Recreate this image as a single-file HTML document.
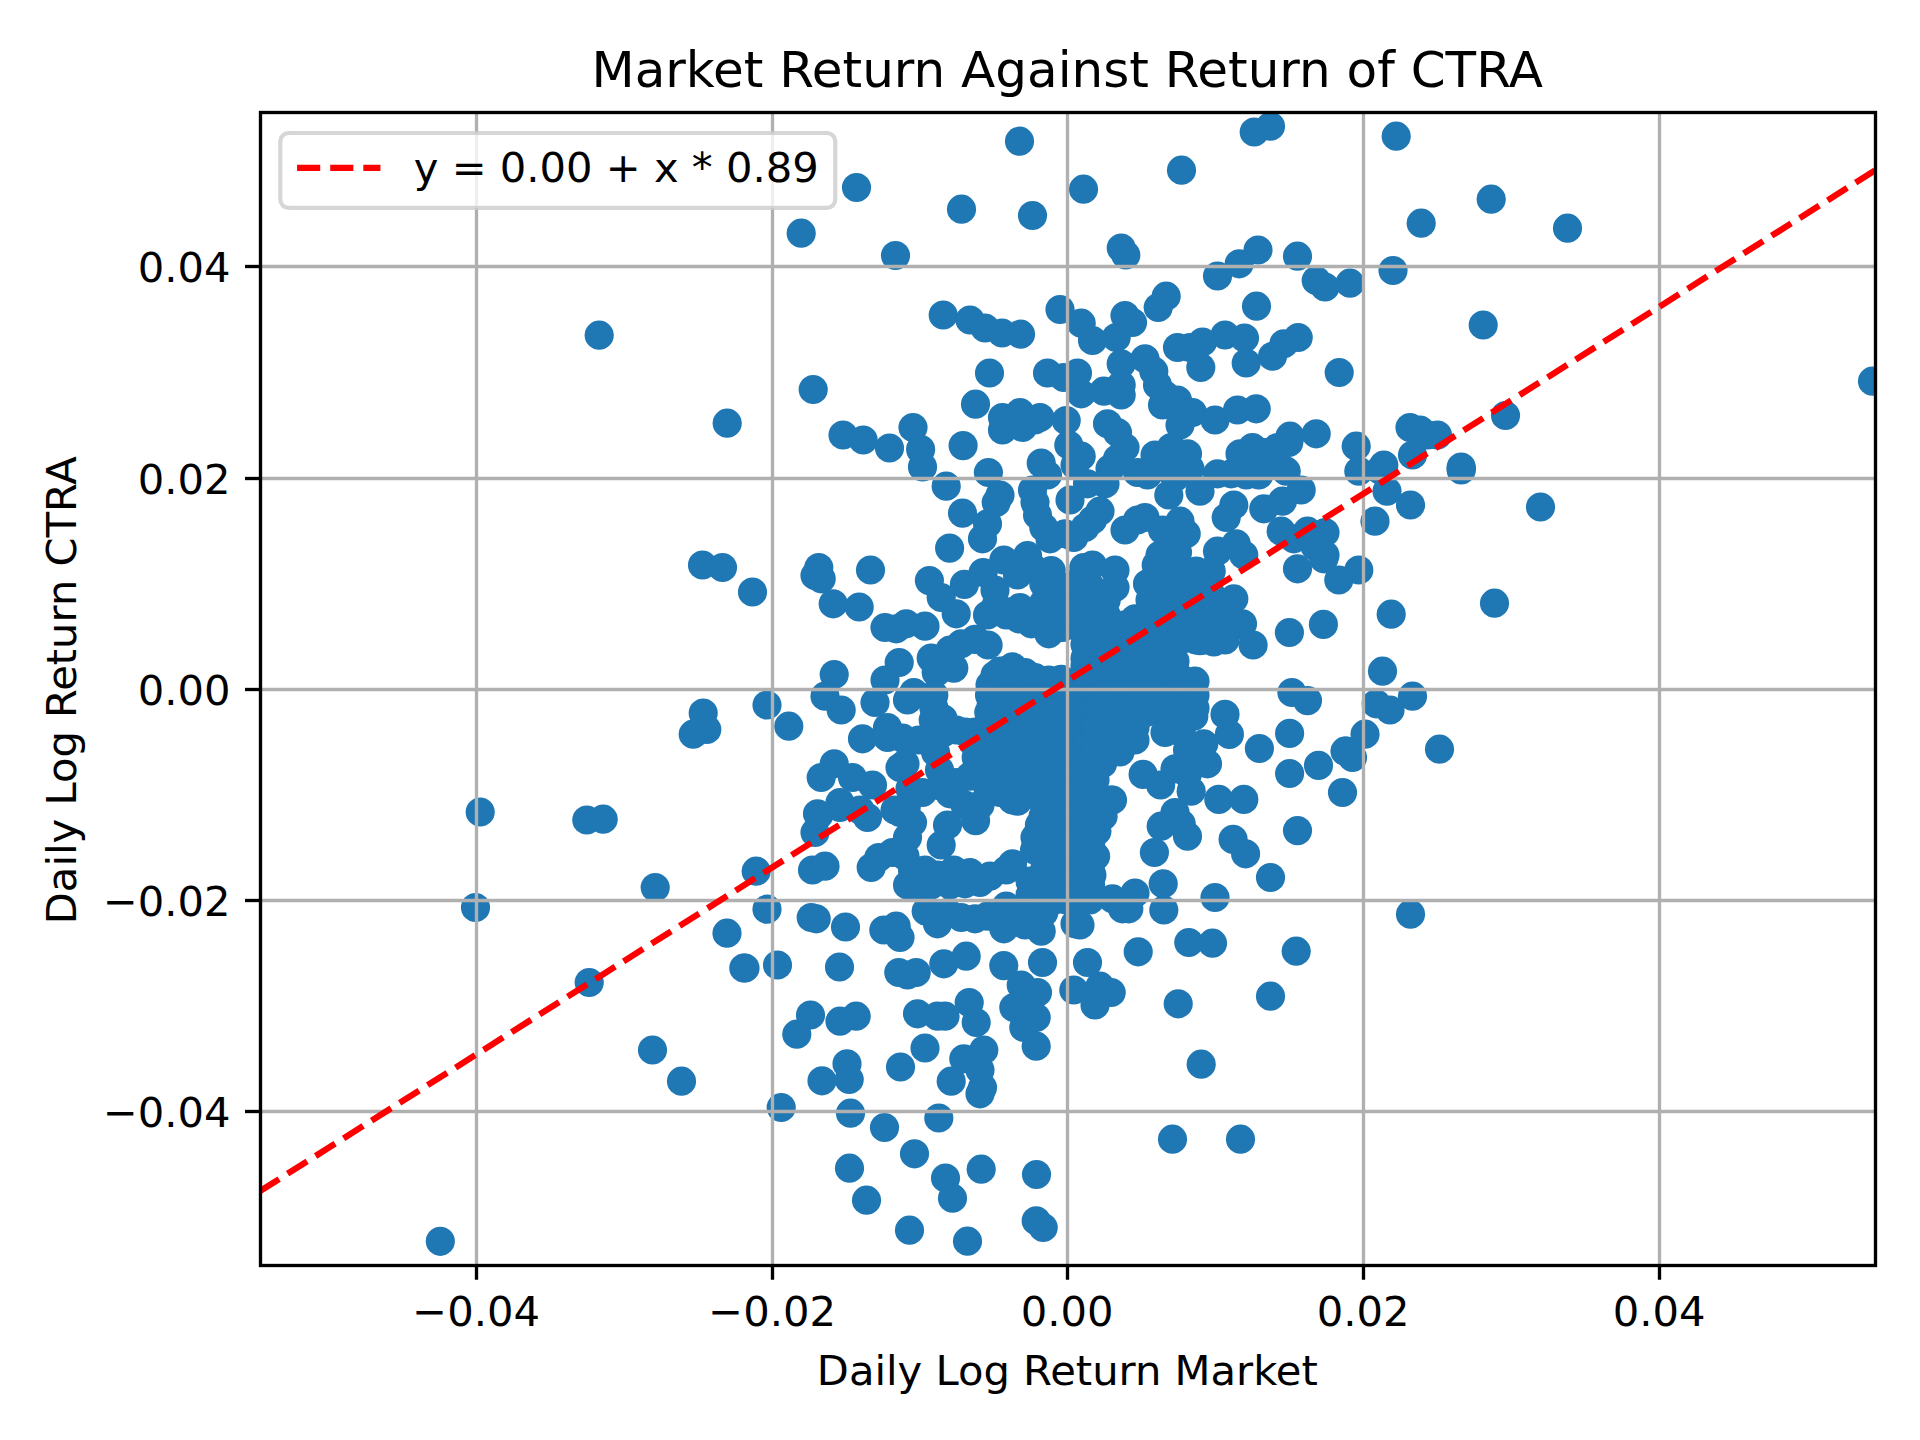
<!DOCTYPE html>
<html lang="en"><head><meta charset="utf-8"><title>Market Return Against Return of CTRA</title>
<style>html,body{margin:0;padding:0;background:#fff}body{width:1920px;height:1440px;overflow:hidden}svg{display:block}text{font-family:'DejaVu Sans','Liberation Sans',sans-serif;fill:#000}</style></head><body>
<svg width="1920" height="1440" viewBox="0 0 1920 1440">
<defs><clipPath id="ax"><rect x="259.583" y="112.000" width="1615.417" height="1153.167"/></clipPath></defs>
<rect width="1920" height="1440" fill="#fff"/>
<g clip-path="url(#ax)" fill="#1f77b4">
<circle cx="1019.5" cy="141.2" r="14.58"/>
<circle cx="856.5" cy="187.5" r="14.58"/>
<circle cx="961.5" cy="209.2" r="14.58"/>
<circle cx="1032.5" cy="215.5" r="14.58"/>
<circle cx="801.2" cy="233.2" r="14.58"/>
<circle cx="895.5" cy="255.5" r="14.58"/>
<circle cx="943.2" cy="315.0" r="14.58"/>
<circle cx="970.0" cy="320.0" r="14.58"/>
<circle cx="985.0" cy="328.0" r="14.58"/>
<circle cx="1002.0" cy="333.0" r="14.58"/>
<circle cx="1020.5" cy="334.2" r="14.58"/>
<circle cx="599.2" cy="335.2" r="14.58"/>
<circle cx="989.5" cy="373.0" r="14.58"/>
<circle cx="813.2" cy="389.5" r="14.58"/>
<circle cx="975.5" cy="404.2" r="14.58"/>
<circle cx="727.2" cy="423.2" r="14.58"/>
<circle cx="913.0" cy="427.5" r="14.58"/>
<circle cx="843.0" cy="435.0" r="14.58"/>
<circle cx="863.2" cy="440.0" r="14.58"/>
<circle cx="889.5" cy="448.0" r="14.58"/>
<circle cx="1002.5" cy="417.5" r="14.58"/>
<circle cx="1020.0" cy="412.5" r="14.58"/>
<circle cx="1002.5" cy="430.0" r="14.58"/>
<circle cx="1022.5" cy="427.5" r="14.58"/>
<circle cx="1035.0" cy="420.0" r="14.58"/>
<circle cx="1254.2" cy="132.0" r="14.58"/>
<circle cx="1270.5" cy="126.2" r="14.58"/>
<circle cx="1396.2" cy="136.2" r="14.58"/>
<circle cx="1181.5" cy="170.2" r="14.58"/>
<circle cx="1083.5" cy="189.2" r="14.58"/>
<circle cx="1491.2" cy="199.2" r="14.58"/>
<circle cx="1421.2" cy="223.2" r="14.58"/>
<circle cx="1121.2" cy="248.0" r="14.58"/>
<circle cx="1125.8" cy="255.0" r="14.58"/>
<circle cx="1258.0" cy="250.0" r="14.58"/>
<circle cx="1239.2" cy="263.8" r="14.58"/>
<circle cx="1297.5" cy="256.2" r="14.58"/>
<circle cx="1217.5" cy="276.0" r="14.58"/>
<circle cx="1393.0" cy="270.5" r="14.58"/>
<circle cx="1316.2" cy="280.5" r="14.58"/>
<circle cx="1325.0" cy="287.0" r="14.58"/>
<circle cx="1350.0" cy="283.2" r="14.58"/>
<circle cx="1166.2" cy="296.2" r="14.58"/>
<circle cx="1158.2" cy="307.5" r="14.58"/>
<circle cx="1256.5" cy="306.2" r="14.58"/>
<circle cx="1060.0" cy="309.5" r="14.58"/>
<circle cx="1125.0" cy="315.5" r="14.58"/>
<circle cx="1132.5" cy="322.5" r="14.58"/>
<circle cx="1081.2" cy="323.2" r="14.58"/>
<circle cx="1483.2" cy="325.0" r="14.58"/>
<circle cx="1092.5" cy="340.5" r="14.58"/>
<circle cx="1116.2" cy="337.5" r="14.58"/>
<circle cx="1225.0" cy="335.0" r="14.58"/>
<circle cx="1244.5" cy="338.0" r="14.58"/>
<circle cx="1202.5" cy="342.0" r="14.58"/>
<circle cx="1177.5" cy="347.5" r="14.58"/>
<circle cx="1190.0" cy="347.5" r="14.58"/>
<circle cx="1298.2" cy="337.5" r="14.58"/>
<circle cx="1283.8" cy="343.8" r="14.58"/>
<circle cx="1272.5" cy="356.2" r="14.58"/>
<circle cx="1246.2" cy="363.0" r="14.58"/>
<circle cx="1200.8" cy="367.5" r="14.58"/>
<circle cx="1145.0" cy="358.8" r="14.58"/>
<circle cx="1121.2" cy="363.8" r="14.58"/>
<circle cx="1153.8" cy="371.2" r="14.58"/>
<circle cx="1339.2" cy="372.5" r="14.58"/>
<circle cx="1047.5" cy="373.0" r="14.58"/>
<circle cx="1077.5" cy="373.0" r="14.58"/>
<circle cx="1063.8" cy="377.5" r="14.58"/>
<circle cx="1121.2" cy="385.0" r="14.58"/>
<circle cx="1103.8" cy="391.2" r="14.58"/>
<circle cx="1081.2" cy="393.8" r="14.58"/>
<circle cx="1121.2" cy="395.0" r="14.58"/>
<circle cx="1157.5" cy="385.0" r="14.58"/>
<circle cx="1165.0" cy="395.0" r="14.58"/>
<circle cx="1177.5" cy="400.0" r="14.58"/>
<circle cx="1162.5" cy="405.0" r="14.58"/>
<circle cx="1180.0" cy="412.5" r="14.58"/>
<circle cx="1192.5" cy="412.5" r="14.58"/>
<circle cx="1180.0" cy="425.0" r="14.58"/>
<circle cx="1215.0" cy="420.0" r="14.58"/>
<circle cx="1237.5" cy="410.0" r="14.58"/>
<circle cx="1256.2" cy="408.8" r="14.58"/>
<circle cx="1040.0" cy="417.5" r="14.58"/>
<circle cx="1066.2" cy="420.5" r="14.58"/>
<circle cx="1107.5" cy="423.8" r="14.58"/>
<circle cx="1117.5" cy="432.5" r="14.58"/>
<circle cx="1290.0" cy="436.2" r="14.58"/>
<circle cx="1316.2" cy="433.8" r="14.58"/>
<circle cx="1410.0" cy="427.5" r="14.58"/>
<circle cx="1420.0" cy="430.0" r="14.58"/>
<circle cx="1427.5" cy="435.0" r="14.58"/>
<circle cx="1505.5" cy="415.5" r="14.58"/>
<circle cx="1412.5" cy="455.0" r="14.58"/>
<circle cx="1383.8" cy="465.0" r="14.58"/>
<circle cx="1461.2" cy="467.0" r="14.58"/>
<circle cx="1567.5" cy="228.2" r="14.58"/>
<circle cx="1872.5" cy="381.2" r="14.58"/>
<circle cx="1461.2" cy="470.0" r="14.58"/>
<circle cx="1437.5" cy="435.0" r="14.58"/>
<circle cx="702.5" cy="565.0" r="14.58"/>
<circle cx="722.5" cy="567.5" r="14.58"/>
<circle cx="703.2" cy="713.0" r="14.58"/>
<circle cx="706.8" cy="729.5" r="14.58"/>
<circle cx="693.2" cy="734.2" r="14.58"/>
<circle cx="480.2" cy="812.0" r="14.58"/>
<circle cx="586.8" cy="820.0" r="14.58"/>
<circle cx="603.2" cy="819.2" r="14.58"/>
<circle cx="655.2" cy="887.5" r="14.58"/>
<circle cx="475.5" cy="907.5" r="14.58"/>
<circle cx="727.0" cy="933.2" r="14.58"/>
<circle cx="743.8" cy="968.0" r="14.58"/>
<circle cx="589.2" cy="982.5" r="14.58"/>
<circle cx="652.5" cy="1050.0" r="14.58"/>
<circle cx="681.5" cy="1081.2" r="14.58"/>
<circle cx="440.3" cy="1241.3" r="14.58"/>
<circle cx="1540.5" cy="507.0" r="14.58"/>
<circle cx="1494.5" cy="603.2" r="14.58"/>
<circle cx="1461.2" cy="468.8" r="14.58"/>
<circle cx="1380.0" cy="470.0" r="14.58"/>
<circle cx="1387.0" cy="491.2" r="14.58"/>
<circle cx="1410.5" cy="505.0" r="14.58"/>
<circle cx="1391.2" cy="614.2" r="14.58"/>
<circle cx="1382.5" cy="671.2" r="14.58"/>
<circle cx="1412.5" cy="696.2" r="14.58"/>
<circle cx="1390.0" cy="710.0" r="14.58"/>
<circle cx="1365.0" cy="734.2" r="14.58"/>
<circle cx="1439.5" cy="749.2" r="14.58"/>
<circle cx="1346.2" cy="751.2" r="14.58"/>
<circle cx="1352.5" cy="757.5" r="14.58"/>
<circle cx="1270.5" cy="877.5" r="14.58"/>
<circle cx="1410.5" cy="914.2" r="14.58"/>
<circle cx="1296.2" cy="951.2" r="14.58"/>
<circle cx="1270.5" cy="996.2" r="14.58"/>
<circle cx="1240.5" cy="1139.2" r="14.58"/>
<circle cx="914.5" cy="1153.8" r="14.58"/>
<circle cx="849.5" cy="1168.2" r="14.58"/>
<circle cx="981.2" cy="1169.2" r="14.58"/>
<circle cx="945.5" cy="1178.0" r="14.58"/>
<circle cx="952.5" cy="1198.2" r="14.58"/>
<circle cx="866.5" cy="1200.2" r="14.58"/>
<circle cx="1036.5" cy="1174.5" r="14.58"/>
<circle cx="1036.2" cy="1220.8" r="14.58"/>
<circle cx="1043.2" cy="1227.5" r="14.58"/>
<circle cx="909.5" cy="1230.2" r="14.58"/>
<circle cx="967.5" cy="1241.2" r="14.58"/>
<circle cx="756.2" cy="871.2" r="14.58"/>
<circle cx="818.8" cy="815.0" r="14.58"/>
<circle cx="815.0" cy="832.5" r="14.58"/>
<circle cx="840.0" cy="807.5" r="14.58"/>
<circle cx="867.5" cy="817.5" r="14.58"/>
<circle cx="812.5" cy="870.0" r="14.58"/>
<circle cx="825.0" cy="866.2" r="14.58"/>
<circle cx="871.2" cy="867.5" r="14.58"/>
<circle cx="878.8" cy="857.5" r="14.58"/>
<circle cx="892.5" cy="852.5" r="14.58"/>
<circle cx="900.0" cy="812.5" r="14.58"/>
<circle cx="1163.2" cy="883.8" r="14.58"/>
<circle cx="1163.8" cy="910.0" r="14.58"/>
<circle cx="1215.0" cy="897.5" r="14.58"/>
<circle cx="767.0" cy="909.2" r="14.58"/>
<circle cx="811.2" cy="917.5" r="14.58"/>
<circle cx="816.2" cy="918.8" r="14.58"/>
<circle cx="845.5" cy="927.0" r="14.58"/>
<circle cx="883.8" cy="930.0" r="14.58"/>
<circle cx="896.2" cy="926.2" r="14.58"/>
<circle cx="900.0" cy="937.5" r="14.58"/>
<circle cx="898.8" cy="972.5" r="14.58"/>
<circle cx="839.5" cy="967.0" r="14.58"/>
<circle cx="777.5" cy="965.0" r="14.58"/>
<circle cx="745.0" cy="968.0" r="14.58"/>
<circle cx="1138.2" cy="951.8" r="14.58"/>
<circle cx="1188.8" cy="942.5" r="14.58"/>
<circle cx="1212.5" cy="943.2" r="14.58"/>
<circle cx="1021.2" cy="985.0" r="14.58"/>
<circle cx="1037.5" cy="992.5" r="14.58"/>
<circle cx="1013.8" cy="1007.5" r="14.58"/>
<circle cx="1027.5" cy="1010.0" r="14.58"/>
<circle cx="1036.2" cy="1017.5" r="14.58"/>
<circle cx="1023.8" cy="1027.5" r="14.58"/>
<circle cx="1036.2" cy="1046.2" r="14.58"/>
<circle cx="1073.8" cy="990.0" r="14.58"/>
<circle cx="1100.0" cy="986.2" r="14.58"/>
<circle cx="1111.2" cy="992.5" r="14.58"/>
<circle cx="1095.0" cy="1005.0" r="14.58"/>
<circle cx="1178.2" cy="1003.8" r="14.58"/>
<circle cx="969.2" cy="1002.5" r="14.58"/>
<circle cx="976.2" cy="1022.5" r="14.58"/>
<circle cx="917.5" cy="1013.8" r="14.58"/>
<circle cx="937.5" cy="1016.2" r="14.58"/>
<circle cx="945.0" cy="1016.2" r="14.58"/>
<circle cx="856.2" cy="1016.2" r="14.58"/>
<circle cx="840.0" cy="1021.2" r="14.58"/>
<circle cx="810.5" cy="1015.0" r="14.58"/>
<circle cx="796.8" cy="1034.2" r="14.58"/>
<circle cx="925.0" cy="1048.0" r="14.58"/>
<circle cx="983.8" cy="1050.0" r="14.58"/>
<circle cx="963.8" cy="1058.8" r="14.58"/>
<circle cx="980.0" cy="1070.0" r="14.58"/>
<circle cx="951.2" cy="1081.2" r="14.58"/>
<circle cx="982.5" cy="1087.5" r="14.58"/>
<circle cx="980.0" cy="1093.8" r="14.58"/>
<circle cx="900.5" cy="1067.0" r="14.58"/>
<circle cx="847.0" cy="1063.8" r="14.58"/>
<circle cx="849.2" cy="1079.5" r="14.58"/>
<circle cx="822.0" cy="1080.8" r="14.58"/>
<circle cx="781.2" cy="1107.5" r="14.58"/>
<circle cx="850.5" cy="1113.2" r="14.58"/>
<circle cx="884.5" cy="1127.5" r="14.58"/>
<circle cx="938.8" cy="1118.0" r="14.58"/>
<circle cx="1201.2" cy="1064.2" r="14.58"/>
<circle cx="1172.5" cy="1139.2" r="14.58"/>
<circle cx="818.8" cy="567.5" r="14.58"/>
<circle cx="815.0" cy="575.5" r="14.58"/>
<circle cx="821.2" cy="578.8" r="14.58"/>
<circle cx="870.5" cy="570.0" r="14.58"/>
<circle cx="752.5" cy="592.0" r="14.58"/>
<circle cx="833.2" cy="603.8" r="14.58"/>
<circle cx="859.2" cy="607.0" r="14.58"/>
<circle cx="885.0" cy="627.5" r="14.58"/>
<circle cx="896.2" cy="628.8" r="14.58"/>
<circle cx="899.2" cy="662.5" r="14.58"/>
<circle cx="885.0" cy="680.0" r="14.58"/>
<circle cx="834.2" cy="674.5" r="14.58"/>
<circle cx="767.0" cy="705.0" r="14.58"/>
<circle cx="788.8" cy="726.2" r="14.58"/>
<circle cx="825.0" cy="696.2" r="14.58"/>
<circle cx="841.2" cy="710.0" r="14.58"/>
<circle cx="875.0" cy="702.5" r="14.58"/>
<circle cx="887.5" cy="727.5" r="14.58"/>
<circle cx="862.5" cy="738.8" r="14.58"/>
<circle cx="887.5" cy="737.5" r="14.58"/>
<circle cx="834.2" cy="763.8" r="14.58"/>
<circle cx="821.2" cy="777.5" r="14.58"/>
<circle cx="852.5" cy="777.5" r="14.58"/>
<circle cx="872.5" cy="785.0" r="14.58"/>
<circle cx="900.0" cy="767.5" r="14.58"/>
<circle cx="840.0" cy="802.5" r="14.58"/>
<circle cx="817.5" cy="813.8" r="14.58"/>
<circle cx="860.0" cy="810.0" r="14.58"/>
<circle cx="895.0" cy="810.0" r="14.58"/>
<circle cx="1229.4" cy="734.4" r="14.58"/>
<circle cx="1259.4" cy="748.5" r="14.58"/>
<circle cx="1289.6" cy="733.4" r="14.58"/>
<circle cx="1289.6" cy="773.5" r="14.58"/>
<circle cx="1318.5" cy="765.4" r="14.58"/>
<circle cx="1345.0" cy="751.2" r="14.58"/>
<circle cx="1342.5" cy="792.5" r="14.58"/>
<circle cx="1297.5" cy="830.6" r="14.58"/>
<circle cx="1243.8" cy="799.4" r="14.58"/>
<circle cx="1218.8" cy="799.4" r="14.58"/>
<circle cx="1233.1" cy="839.4" r="14.58"/>
<circle cx="1245.6" cy="853.8" r="14.58"/>
<circle cx="1154.4" cy="852.5" r="14.58"/>
<circle cx="1161.2" cy="826.2" r="14.58"/>
<circle cx="1175.0" cy="812.5" r="14.58"/>
<circle cx="1181.2" cy="823.8" r="14.58"/>
<circle cx="1187.5" cy="836.2" r="14.58"/>
<circle cx="1143.1" cy="774.4" r="14.58"/>
<circle cx="1160.6" cy="785.0" r="14.58"/>
<circle cx="1175.0" cy="768.8" r="14.58"/>
<circle cx="1191.2" cy="791.2" r="14.58"/>
<circle cx="1187.5" cy="773.8" r="14.58"/>
<circle cx="1207.5" cy="763.8" r="14.58"/>
<circle cx="1203.8" cy="743.8" r="14.58"/>
<circle cx="1165.0" cy="732.5" r="14.58"/>
<circle cx="1181.2" cy="732.5" r="14.58"/>
<circle cx="1187.5" cy="750.0" r="14.58"/>
<circle cx="920.6" cy="449.4" r="14.58"/>
<circle cx="922.5" cy="466.9" r="14.58"/>
<circle cx="963.1" cy="445.6" r="14.58"/>
<circle cx="988.4" cy="472.5" r="14.58"/>
<circle cx="946.2" cy="486.2" r="14.58"/>
<circle cx="1041.2" cy="463.1" r="14.58"/>
<circle cx="1047.5" cy="475.0" r="14.58"/>
<circle cx="1068.8" cy="445.0" r="14.58"/>
<circle cx="1081.2" cy="456.2" r="14.58"/>
<circle cx="1075.0" cy="465.0" r="14.58"/>
<circle cx="1117.5" cy="458.8" r="14.58"/>
<circle cx="1110.0" cy="468.8" r="14.58"/>
<circle cx="1125.0" cy="447.5" r="14.58"/>
<circle cx="1105.0" cy="483.8" r="14.58"/>
<circle cx="1087.5" cy="483.8" r="14.58"/>
<circle cx="1070.0" cy="500.0" r="14.58"/>
<circle cx="1137.5" cy="472.5" r="14.58"/>
<circle cx="1000.0" cy="495.0" r="14.58"/>
<circle cx="996.2" cy="502.5" r="14.58"/>
<circle cx="1032.5" cy="490.0" r="14.58"/>
<circle cx="1035.0" cy="502.5" r="14.58"/>
<circle cx="1037.5" cy="515.0" r="14.58"/>
<circle cx="1043.8" cy="527.5" r="14.58"/>
<circle cx="1050.0" cy="538.8" r="14.58"/>
<circle cx="1065.0" cy="533.8" r="14.58"/>
<circle cx="1073.8" cy="537.5" r="14.58"/>
<circle cx="1085.0" cy="527.5" r="14.58"/>
<circle cx="1092.5" cy="520.0" r="14.58"/>
<circle cx="1100.0" cy="511.2" r="14.58"/>
<circle cx="962.5" cy="513.1" r="14.58"/>
<circle cx="987.5" cy="523.8" r="14.58"/>
<circle cx="982.5" cy="538.8" r="14.58"/>
<circle cx="949.6" cy="548.1" r="14.58"/>
<circle cx="1125.0" cy="530.0" r="14.58"/>
<circle cx="1137.5" cy="520.0" r="14.58"/>
<circle cx="929.4" cy="580.6" r="14.58"/>
<circle cx="941.2" cy="597.5" r="14.58"/>
<circle cx="956.2" cy="613.8" r="14.58"/>
<circle cx="964.4" cy="584.4" r="14.58"/>
<circle cx="983.1" cy="572.5" r="14.58"/>
<circle cx="1003.8" cy="560.0" r="14.58"/>
<circle cx="1027.5" cy="555.6" r="14.58"/>
<circle cx="1032.5" cy="567.5" r="14.58"/>
<circle cx="1051.2" cy="570.6" r="14.58"/>
<circle cx="1017.5" cy="575.0" r="14.58"/>
<circle cx="995.0" cy="590.0" r="14.58"/>
<circle cx="996.2" cy="605.0" r="14.58"/>
<circle cx="987.5" cy="615.0" r="14.58"/>
<circle cx="1020.0" cy="607.5" r="14.58"/>
<circle cx="1043.8" cy="583.8" r="14.58"/>
<circle cx="1043.8" cy="602.5" r="14.58"/>
<circle cx="1056.2" cy="590.0" r="14.58"/>
<circle cx="1037.5" cy="615.0" r="14.58"/>
<circle cx="1056.2" cy="608.8" r="14.58"/>
<circle cx="1006.2" cy="615.0" r="14.58"/>
<circle cx="1083.8" cy="567.5" r="14.58"/>
<circle cx="1092.5" cy="565.0" r="14.58"/>
<circle cx="1115.0" cy="570.0" r="14.58"/>
<circle cx="1115.0" cy="587.5" r="14.58"/>
<circle cx="1091.2" cy="587.5" r="14.58"/>
<circle cx="1081.2" cy="602.5" r="14.58"/>
<circle cx="1095.0" cy="606.2" r="14.58"/>
<circle cx="1075.0" cy="583.8" r="14.58"/>
<circle cx="1135.0" cy="618.8" r="14.58"/>
<circle cx="1106.2" cy="615.0" r="14.58"/>
<circle cx="1081.2" cy="615.0" r="14.58"/>
<circle cx="1106.2" cy="600.0" r="14.58"/>
<circle cx="1155.0" cy="455.0" r="14.58"/>
<circle cx="1171.2" cy="447.5" r="14.58"/>
<circle cx="1187.5" cy="453.8" r="14.58"/>
<circle cx="1175.0" cy="467.5" r="14.58"/>
<circle cx="1147.5" cy="475.0" r="14.58"/>
<circle cx="1175.0" cy="477.5" r="14.58"/>
<circle cx="1156.2" cy="465.0" r="14.58"/>
<circle cx="1190.0" cy="468.8" r="14.58"/>
<circle cx="1168.8" cy="495.0" r="14.58"/>
<circle cx="1200.0" cy="491.2" r="14.58"/>
<circle cx="1217.5" cy="473.8" r="14.58"/>
<circle cx="1231.2" cy="473.8" r="14.58"/>
<circle cx="1240.0" cy="453.8" r="14.58"/>
<circle cx="1246.2" cy="465.0" r="14.58"/>
<circle cx="1246.2" cy="475.0" r="14.58"/>
<circle cx="1258.8" cy="475.0" r="14.58"/>
<circle cx="1265.0" cy="452.5" r="14.58"/>
<circle cx="1271.2" cy="465.0" r="14.58"/>
<circle cx="1277.5" cy="447.5" r="14.58"/>
<circle cx="1286.2" cy="471.2" r="14.58"/>
<circle cx="1252.5" cy="447.5" r="14.58"/>
<circle cx="1288.8" cy="442.5" r="14.58"/>
<circle cx="1301.2" cy="490.0" r="14.58"/>
<circle cx="1282.5" cy="501.2" r="14.58"/>
<circle cx="1263.8" cy="508.8" r="14.58"/>
<circle cx="1233.8" cy="505.0" r="14.58"/>
<circle cx="1226.2" cy="517.5" r="14.58"/>
<circle cx="1356.2" cy="446.2" r="14.58"/>
<circle cx="1358.8" cy="471.2" r="14.58"/>
<circle cx="1375.0" cy="521.2" r="14.58"/>
<circle cx="1281.2" cy="531.2" r="14.58"/>
<circle cx="1293.8" cy="538.8" r="14.58"/>
<circle cx="1307.5" cy="531.2" r="14.58"/>
<circle cx="1325.0" cy="532.5" r="14.58"/>
<circle cx="1325.0" cy="555.0" r="14.58"/>
<circle cx="1315.0" cy="546.2" r="14.58"/>
<circle cx="1323.8" cy="558.8" r="14.58"/>
<circle cx="1297.5" cy="568.8" r="14.58"/>
<circle cx="1338.8" cy="580.0" r="14.58"/>
<circle cx="1358.8" cy="570.0" r="14.58"/>
<circle cx="1145.0" cy="517.5" r="14.58"/>
<circle cx="1180.0" cy="521.2" r="14.58"/>
<circle cx="1162.5" cy="530.0" r="14.58"/>
<circle cx="1186.2" cy="533.8" r="14.58"/>
<circle cx="1171.2" cy="540.0" r="14.58"/>
<circle cx="1217.5" cy="551.2" r="14.58"/>
<circle cx="1236.2" cy="543.8" r="14.58"/>
<circle cx="1243.8" cy="555.0" r="14.58"/>
<circle cx="1160.0" cy="555.0" r="14.58"/>
<circle cx="1177.5" cy="552.5" r="14.58"/>
<circle cx="1156.2" cy="565.0" r="14.58"/>
<circle cx="1196.2" cy="571.2" r="14.58"/>
<circle cx="1211.2" cy="571.2" r="14.58"/>
<circle cx="1177.5" cy="571.2" r="14.58"/>
<circle cx="1158.8" cy="577.5" r="14.58"/>
<circle cx="1147.5" cy="583.8" r="14.58"/>
<circle cx="1171.2" cy="587.5" r="14.58"/>
<circle cx="1196.2" cy="590.0" r="14.58"/>
<circle cx="1210.0" cy="592.5" r="14.58"/>
<circle cx="1152.5" cy="600.0" r="14.58"/>
<circle cx="1158.8" cy="615.0" r="14.58"/>
<circle cx="1177.5" cy="617.5" r="14.58"/>
<circle cx="1196.2" cy="608.8" r="14.58"/>
<circle cx="1215.0" cy="612.5" r="14.58"/>
<circle cx="1233.8" cy="598.8" r="14.58"/>
<circle cx="1227.5" cy="615.0" r="14.58"/>
<circle cx="925.0" cy="626.2" r="14.58"/>
<circle cx="906.2" cy="623.8" r="14.58"/>
<circle cx="975.0" cy="639.4" r="14.58"/>
<circle cx="988.1" cy="645.0" r="14.58"/>
<circle cx="961.2" cy="643.8" r="14.58"/>
<circle cx="950.0" cy="650.0" r="14.58"/>
<circle cx="931.2" cy="658.1" r="14.58"/>
<circle cx="937.5" cy="667.5" r="14.58"/>
<circle cx="953.8" cy="668.1" r="14.58"/>
<circle cx="936.2" cy="672.5" r="14.58"/>
<circle cx="913.8" cy="692.5" r="14.58"/>
<circle cx="907.5" cy="700.0" r="14.58"/>
<circle cx="933.8" cy="695.0" r="14.58"/>
<circle cx="933.8" cy="707.5" r="14.58"/>
<circle cx="933.2" cy="720.0" r="14.58"/>
<circle cx="943.1" cy="718.9" r="14.58"/>
<circle cx="902.5" cy="738.1" r="14.58"/>
<circle cx="918.8" cy="740.0" r="14.58"/>
<circle cx="1007.5" cy="670.0" r="14.58"/>
<circle cx="1012.5" cy="666.9" r="14.58"/>
<circle cx="1000.0" cy="671.2" r="14.58"/>
<circle cx="1025.0" cy="672.5" r="14.58"/>
<circle cx="1035.0" cy="677.5" r="14.58"/>
<circle cx="1048.8" cy="680.0" r="14.58"/>
<circle cx="1061.2" cy="679.4" r="14.58"/>
<circle cx="995.0" cy="675.0" r="14.58"/>
<circle cx="990.0" cy="685.0" r="14.58"/>
<circle cx="989.5" cy="695.0" r="14.58"/>
<circle cx="991.2" cy="705.0" r="14.58"/>
<circle cx="988.8" cy="712.5" r="14.58"/>
<circle cx="965.0" cy="732.0" r="14.58"/>
<circle cx="975.0" cy="732.0" r="14.58"/>
<circle cx="956.2" cy="730.0" r="14.58"/>
<circle cx="943.8" cy="732.5" r="14.58"/>
<circle cx="1018.8" cy="618.8" r="14.58"/>
<circle cx="1031.2" cy="623.8" r="14.58"/>
<circle cx="1048.8" cy="633.8" r="14.58"/>
<circle cx="1062.5" cy="627.5" r="14.58"/>
<circle cx="1008.8" cy="612.5" r="14.58"/>
<circle cx="935.6" cy="752.5" r="14.58"/>
<circle cx="939.5" cy="770.0" r="14.58"/>
<circle cx="976.2" cy="757.5" r="14.58"/>
<circle cx="956.2" cy="782.5" r="14.58"/>
<circle cx="905.0" cy="763.8" r="14.58"/>
<circle cx="910.0" cy="788.8" r="14.58"/>
<circle cx="941.2" cy="786.2" r="14.58"/>
<circle cx="975.0" cy="745.0" r="14.58"/>
<circle cx="970.0" cy="776.2" r="14.58"/>
<circle cx="922.5" cy="792.5" r="14.58"/>
<circle cx="950.0" cy="793.8" r="14.58"/>
<circle cx="1000.0" cy="776.2" r="14.58"/>
<circle cx="987.5" cy="786.2" r="14.58"/>
<circle cx="1000.0" cy="792.5" r="14.58"/>
<circle cx="1012.5" cy="800.0" r="14.58"/>
<circle cx="1025.0" cy="782.5" r="14.58"/>
<circle cx="1035.0" cy="795.0" r="14.58"/>
<circle cx="1037.5" cy="776.2" r="14.58"/>
<circle cx="1050.0" cy="792.5" r="14.58"/>
<circle cx="1118.8" cy="745.0" r="14.58"/>
<circle cx="1106.2" cy="751.2" r="14.58"/>
<circle cx="1102.5" cy="763.8" r="14.58"/>
<circle cx="1092.5" cy="776.2" r="14.58"/>
<circle cx="1093.1" cy="788.8" r="14.58"/>
<circle cx="1112.5" cy="800.0" r="14.58"/>
<circle cx="1100.0" cy="800.0" r="14.58"/>
<circle cx="1000.0" cy="740.0" r="14.58"/>
<circle cx="1012.5" cy="745.0" r="14.58"/>
<circle cx="987.5" cy="767.5" r="14.58"/>
<circle cx="1012.5" cy="763.8" r="14.58"/>
<circle cx="1025.0" cy="763.8" r="14.58"/>
<circle cx="906.2" cy="807.5" r="14.58"/>
<circle cx="912.5" cy="822.5" r="14.58"/>
<circle cx="907.5" cy="837.5" r="14.58"/>
<circle cx="905.0" cy="856.2" r="14.58"/>
<circle cx="912.5" cy="870.0" r="14.58"/>
<circle cx="907.5" cy="885.0" r="14.58"/>
<circle cx="921.2" cy="887.5" r="14.58"/>
<circle cx="947.5" cy="825.0" r="14.58"/>
<circle cx="941.2" cy="845.0" r="14.58"/>
<circle cx="975.6" cy="820.6" r="14.58"/>
<circle cx="965.0" cy="805.0" r="14.58"/>
<circle cx="980.0" cy="805.0" r="14.58"/>
<circle cx="1017.5" cy="801.2" r="14.58"/>
<circle cx="1043.1" cy="816.2" r="14.58"/>
<circle cx="1039.4" cy="825.0" r="14.58"/>
<circle cx="1035.0" cy="837.5" r="14.58"/>
<circle cx="1034.5" cy="850.0" r="14.58"/>
<circle cx="1110.6" cy="800.0" r="14.58"/>
<circle cx="1103.1" cy="816.2" r="14.58"/>
<circle cx="1096.9" cy="831.2" r="14.58"/>
<circle cx="1090.6" cy="843.8" r="14.58"/>
<circle cx="1095.6" cy="856.2" r="14.58"/>
<circle cx="1091.9" cy="875.0" r="14.58"/>
<circle cx="1090.6" cy="885.0" r="14.58"/>
<circle cx="1012.5" cy="863.8" r="14.58"/>
<circle cx="1006.2" cy="870.0" r="14.58"/>
<circle cx="990.0" cy="876.2" r="14.58"/>
<circle cx="970.0" cy="872.5" r="14.58"/>
<circle cx="953.8" cy="870.0" r="14.58"/>
<circle cx="937.5" cy="875.0" r="14.58"/>
<circle cx="950.0" cy="885.0" r="14.58"/>
<circle cx="965.0" cy="883.8" r="14.58"/>
<circle cx="980.0" cy="882.5" r="14.58"/>
<circle cx="925.0" cy="870.0" r="14.58"/>
<circle cx="931.2" cy="885.0" r="14.58"/>
<circle cx="1030.0" cy="881.2" r="14.58"/>
<circle cx="1030.0" cy="895.0" r="14.58"/>
<circle cx="926.2" cy="911.2" r="14.58"/>
<circle cx="937.5" cy="923.8" r="14.58"/>
<circle cx="961.2" cy="917.5" r="14.58"/>
<circle cx="987.5" cy="916.2" r="14.58"/>
<circle cx="1003.8" cy="928.8" r="14.58"/>
<circle cx="1041.2" cy="931.2" r="14.58"/>
<circle cx="1043.8" cy="912.5" r="14.58"/>
<circle cx="1025.0" cy="912.5" r="14.58"/>
<circle cx="1006.2" cy="906.2" r="14.58"/>
<circle cx="975.0" cy="918.8" r="14.58"/>
<circle cx="947.5" cy="912.5" r="14.58"/>
<circle cx="1025.0" cy="925.0" r="14.58"/>
<circle cx="1075.0" cy="923.8" r="14.58"/>
<circle cx="1080.0" cy="925.0" r="14.58"/>
<circle cx="1085.0" cy="892.5" r="14.58"/>
<circle cx="1112.5" cy="898.8" r="14.58"/>
<circle cx="1135.0" cy="893.1" r="14.58"/>
<circle cx="1122.5" cy="908.8" r="14.58"/>
<circle cx="1128.8" cy="908.8" r="14.58"/>
<circle cx="943.8" cy="963.8" r="14.58"/>
<circle cx="966.2" cy="956.2" r="14.58"/>
<circle cx="1003.8" cy="965.6" r="14.58"/>
<circle cx="1042.5" cy="962.5" r="14.58"/>
<circle cx="1087.5" cy="962.5" r="14.58"/>
<circle cx="907.5" cy="975.0" r="14.58"/>
<circle cx="916.2" cy="972.5" r="14.58"/>
<circle cx="1242.5" cy="623.8" r="14.58"/>
<circle cx="1227.5" cy="631.2" r="14.58"/>
<circle cx="1215.0" cy="625.0" r="14.58"/>
<circle cx="1200.0" cy="625.0" r="14.58"/>
<circle cx="1213.8" cy="641.9" r="14.58"/>
<circle cx="1200.0" cy="640.6" r="14.58"/>
<circle cx="1187.5" cy="637.5" r="14.58"/>
<circle cx="1171.2" cy="631.2" r="14.58"/>
<circle cx="1155.0" cy="631.2" r="14.58"/>
<circle cx="1158.8" cy="647.5" r="14.58"/>
<circle cx="1145.0" cy="650.0" r="14.58"/>
<circle cx="1253.1" cy="645.0" r="14.58"/>
<circle cx="1289.4" cy="632.5" r="14.58"/>
<circle cx="1323.4" cy="624.4" r="14.58"/>
<circle cx="1175.0" cy="661.2" r="14.58"/>
<circle cx="1195.0" cy="681.2" r="14.58"/>
<circle cx="1177.5" cy="675.0" r="14.58"/>
<circle cx="1158.8" cy="675.0" r="14.58"/>
<circle cx="1145.0" cy="668.8" r="14.58"/>
<circle cx="1181.2" cy="690.0" r="14.58"/>
<circle cx="1165.0" cy="690.0" r="14.58"/>
<circle cx="1147.5" cy="690.0" r="14.58"/>
<circle cx="1190.0" cy="700.0" r="14.58"/>
<circle cx="1193.8" cy="716.2" r="14.58"/>
<circle cx="1177.5" cy="712.5" r="14.58"/>
<circle cx="1158.8" cy="706.2" r="14.58"/>
<circle cx="1146.2" cy="712.5" r="14.58"/>
<circle cx="1171.2" cy="697.5" r="14.58"/>
<circle cx="1225.0" cy="714.4" r="14.58"/>
<circle cx="1291.9" cy="692.5" r="14.58"/>
<circle cx="1307.5" cy="700.6" r="14.58"/>
<circle cx="1376.2" cy="703.8" r="14.58"/>
<circle cx="1085.0" cy="625.0" r="14.58"/>
<circle cx="1085.0" cy="634.8" r="14.58"/>
<circle cx="1085.0" cy="644.6" r="14.58"/>
<circle cx="1085.0" cy="658.4" r="14.58"/>
<circle cx="1085.0" cy="665.8" r="14.58"/>
<circle cx="1085.0" cy="679.4" r="14.58"/>
<circle cx="1085.0" cy="690.0" r="14.58"/>
<circle cx="1094.2" cy="625.0" r="14.58"/>
<circle cx="1092.3" cy="635.9" r="14.58"/>
<circle cx="1092.2" cy="646.3" r="14.58"/>
<circle cx="1092.4" cy="655.0" r="14.58"/>
<circle cx="1094.5" cy="670.3" r="14.58"/>
<circle cx="1092.7" cy="677.5" r="14.58"/>
<circle cx="1095.8" cy="690.0" r="14.58"/>
<circle cx="1107.7" cy="625.0" r="14.58"/>
<circle cx="1105.5" cy="635.2" r="14.58"/>
<circle cx="1107.9" cy="643.9" r="14.58"/>
<circle cx="1107.2" cy="656.2" r="14.58"/>
<circle cx="1102.9" cy="666.0" r="14.58"/>
<circle cx="1103.9" cy="681.1" r="14.58"/>
<circle cx="1103.1" cy="690.0" r="14.58"/>
<circle cx="1115.5" cy="625.0" r="14.58"/>
<circle cx="1115.8" cy="635.1" r="14.58"/>
<circle cx="1115.3" cy="644.0" r="14.58"/>
<circle cx="1112.4" cy="655.7" r="14.58"/>
<circle cx="1116.1" cy="667.9" r="14.58"/>
<circle cx="1113.9" cy="679.7" r="14.58"/>
<circle cx="1114.7" cy="690.0" r="14.58"/>
<circle cx="1123.8" cy="625.0" r="14.58"/>
<circle cx="1126.8" cy="637.0" r="14.58"/>
<circle cx="1123.5" cy="647.1" r="14.58"/>
<circle cx="1125.2" cy="659.8" r="14.58"/>
<circle cx="1126.4" cy="667.1" r="14.58"/>
<circle cx="1127.9" cy="676.9" r="14.58"/>
<circle cx="1124.5" cy="690.0" r="14.58"/>
<circle cx="1135.0" cy="625.0" r="14.58"/>
<circle cx="1135.0" cy="637.4" r="14.58"/>
<circle cx="1135.0" cy="644.6" r="14.58"/>
<circle cx="1135.0" cy="657.4" r="14.58"/>
<circle cx="1135.0" cy="665.6" r="14.58"/>
<circle cx="1135.0" cy="680.2" r="14.58"/>
<circle cx="1135.0" cy="690.0" r="14.58"/>
<circle cx="1060.0" cy="690.0" r="14.58"/>
<circle cx="1060.0" cy="702.8" r="14.58"/>
<circle cx="1060.0" cy="712.9" r="14.58"/>
<circle cx="1060.0" cy="726.0" r="14.58"/>
<circle cx="1060.0" cy="733.9" r="14.58"/>
<circle cx="1060.0" cy="747.4" r="14.58"/>
<circle cx="1060.0" cy="758.1" r="14.58"/>
<circle cx="1060.0" cy="769.2" r="14.58"/>
<circle cx="1060.0" cy="780.0" r="14.58"/>
<circle cx="1071.4" cy="690.0" r="14.58"/>
<circle cx="1073.7" cy="703.9" r="14.58"/>
<circle cx="1071.5" cy="713.5" r="14.58"/>
<circle cx="1069.0" cy="725.0" r="14.58"/>
<circle cx="1072.5" cy="738.0" r="14.58"/>
<circle cx="1073.6" cy="745.0" r="14.58"/>
<circle cx="1071.0" cy="758.5" r="14.58"/>
<circle cx="1068.8" cy="768.5" r="14.58"/>
<circle cx="1069.7" cy="780.0" r="14.58"/>
<circle cx="1081.0" cy="690.0" r="14.58"/>
<circle cx="1080.7" cy="702.9" r="14.58"/>
<circle cx="1081.1" cy="711.0" r="14.58"/>
<circle cx="1082.7" cy="726.0" r="14.58"/>
<circle cx="1080.8" cy="734.7" r="14.58"/>
<circle cx="1083.6" cy="748.6" r="14.58"/>
<circle cx="1085.2" cy="759.7" r="14.58"/>
<circle cx="1082.0" cy="768.2" r="14.58"/>
<circle cx="1082.5" cy="780.0" r="14.58"/>
<circle cx="1095.0" cy="690.0" r="14.58"/>
<circle cx="1095.0" cy="703.6" r="14.58"/>
<circle cx="1095.0" cy="715.2" r="14.58"/>
<circle cx="1095.0" cy="721.7" r="14.58"/>
<circle cx="1095.0" cy="733.1" r="14.58"/>
<circle cx="1095.0" cy="744.6" r="14.58"/>
<circle cx="1095.0" cy="755.9" r="14.58"/>
<circle cx="1095.0" cy="768.7" r="14.58"/>
<circle cx="1095.0" cy="780.0" r="14.58"/>
<circle cx="1000.0" cy="690.0" r="14.58"/>
<circle cx="1000.0" cy="701.5" r="14.58"/>
<circle cx="1000.0" cy="710.6" r="14.58"/>
<circle cx="1000.0" cy="720.0" r="14.58"/>
<circle cx="1000.0" cy="733.5" r="14.58"/>
<circle cx="1000.0" cy="745.0" r="14.58"/>
<circle cx="1011.2" cy="690.0" r="14.58"/>
<circle cx="1012.4" cy="703.7" r="14.58"/>
<circle cx="1013.1" cy="712.1" r="14.58"/>
<circle cx="1012.7" cy="724.1" r="14.58"/>
<circle cx="1009.3" cy="736.4" r="14.58"/>
<circle cx="1013.7" cy="745.0" r="14.58"/>
<circle cx="1026.2" cy="690.0" r="14.58"/>
<circle cx="1025.8" cy="700.4" r="14.58"/>
<circle cx="1023.4" cy="709.6" r="14.58"/>
<circle cx="1024.8" cy="720.4" r="14.58"/>
<circle cx="1021.4" cy="732.3" r="14.58"/>
<circle cx="1022.0" cy="745.0" r="14.58"/>
<circle cx="1035.0" cy="690.0" r="14.58"/>
<circle cx="1033.3" cy="698.0" r="14.58"/>
<circle cx="1033.9" cy="709.6" r="14.58"/>
<circle cx="1035.2" cy="720.2" r="14.58"/>
<circle cx="1038.2" cy="734.7" r="14.58"/>
<circle cx="1033.9" cy="745.0" r="14.58"/>
<circle cx="1046.5" cy="690.0" r="14.58"/>
<circle cx="1047.1" cy="700.2" r="14.58"/>
<circle cx="1045.7" cy="714.1" r="14.58"/>
<circle cx="1051.0" cy="722.8" r="14.58"/>
<circle cx="1047.9" cy="731.5" r="14.58"/>
<circle cx="1045.6" cy="745.0" r="14.58"/>
<circle cx="1060.0" cy="690.0" r="14.58"/>
<circle cx="1060.0" cy="700.1" r="14.58"/>
<circle cx="1060.0" cy="710.6" r="14.58"/>
<circle cx="1060.0" cy="725.0" r="14.58"/>
<circle cx="1060.0" cy="732.0" r="14.58"/>
<circle cx="1060.0" cy="745.0" r="14.58"/>
<circle cx="1020.0" cy="745.0" r="14.58"/>
<circle cx="1020.0" cy="752.1" r="14.58"/>
<circle cx="1020.0" cy="767.7" r="14.58"/>
<circle cx="1020.0" cy="775.2" r="14.58"/>
<circle cx="1020.0" cy="785.0" r="14.58"/>
<circle cx="1027.9" cy="745.0" r="14.58"/>
<circle cx="1030.3" cy="752.2" r="14.58"/>
<circle cx="1030.2" cy="767.9" r="14.58"/>
<circle cx="1032.2" cy="776.2" r="14.58"/>
<circle cx="1028.6" cy="785.0" r="14.58"/>
<circle cx="1039.2" cy="745.0" r="14.58"/>
<circle cx="1038.0" cy="756.6" r="14.58"/>
<circle cx="1040.2" cy="766.7" r="14.58"/>
<circle cx="1039.0" cy="773.3" r="14.58"/>
<circle cx="1041.9" cy="785.0" r="14.58"/>
<circle cx="1052.9" cy="745.0" r="14.58"/>
<circle cx="1052.1" cy="756.8" r="14.58"/>
<circle cx="1051.9" cy="766.4" r="14.58"/>
<circle cx="1048.4" cy="775.1" r="14.58"/>
<circle cx="1049.1" cy="785.0" r="14.58"/>
<circle cx="1060.0" cy="745.0" r="14.58"/>
<circle cx="1060.0" cy="752.2" r="14.58"/>
<circle cx="1060.0" cy="762.2" r="14.58"/>
<circle cx="1060.0" cy="773.7" r="14.58"/>
<circle cx="1060.0" cy="785.0" r="14.58"/>
<circle cx="1095.0" cy="690.0" r="14.58"/>
<circle cx="1095.0" cy="698.6" r="14.58"/>
<circle cx="1095.0" cy="711.2" r="14.58"/>
<circle cx="1095.0" cy="722.7" r="14.58"/>
<circle cx="1095.0" cy="729.7" r="14.58"/>
<circle cx="1095.0" cy="740.0" r="14.58"/>
<circle cx="1110.0" cy="690.0" r="14.58"/>
<circle cx="1110.0" cy="702.6" r="14.58"/>
<circle cx="1110.0" cy="712.9" r="14.58"/>
<circle cx="1110.0" cy="722.7" r="14.58"/>
<circle cx="1110.0" cy="729.2" r="14.58"/>
<circle cx="1110.0" cy="740.0" r="14.58"/>
<circle cx="1140.0" cy="620.0" r="14.58"/>
<circle cx="1140.0" cy="628.3" r="14.58"/>
<circle cx="1140.0" cy="640.0" r="14.58"/>
<circle cx="1149.0" cy="620.0" r="14.58"/>
<circle cx="1148.8" cy="628.2" r="14.58"/>
<circle cx="1151.4" cy="640.0" r="14.58"/>
<circle cx="1163.7" cy="620.0" r="14.58"/>
<circle cx="1163.3" cy="629.9" r="14.58"/>
<circle cx="1162.2" cy="640.0" r="14.58"/>
<circle cx="1173.7" cy="620.0" r="14.58"/>
<circle cx="1169.4" cy="631.0" r="14.58"/>
<circle cx="1174.3" cy="640.0" r="14.58"/>
<circle cx="1184.2" cy="620.0" r="14.58"/>
<circle cx="1184.0" cy="629.9" r="14.58"/>
<circle cx="1180.6" cy="640.0" r="14.58"/>
<circle cx="1194.9" cy="620.0" r="14.58"/>
<circle cx="1192.1" cy="631.8" r="14.58"/>
<circle cx="1196.0" cy="640.0" r="14.58"/>
<circle cx="1203.1" cy="620.0" r="14.58"/>
<circle cx="1203.2" cy="632.7" r="14.58"/>
<circle cx="1205.1" cy="640.0" r="14.58"/>
<circle cx="1212.4" cy="620.0" r="14.58"/>
<circle cx="1212.1" cy="627.9" r="14.58"/>
<circle cx="1216.8" cy="640.0" r="14.58"/>
<circle cx="1225.0" cy="620.0" r="14.58"/>
<circle cx="1225.0" cy="631.8" r="14.58"/>
<circle cx="1225.0" cy="640.0" r="14.58"/>
<circle cx="1140.0" cy="640.0" r="14.58"/>
<circle cx="1140.0" cy="647.9" r="14.58"/>
<circle cx="1140.0" cy="662.0" r="14.58"/>
<circle cx="1140.0" cy="672.9" r="14.58"/>
<circle cx="1140.0" cy="680.9" r="14.58"/>
<circle cx="1140.0" cy="690.0" r="14.58"/>
<circle cx="1149.8" cy="640.0" r="14.58"/>
<circle cx="1151.0" cy="647.8" r="14.58"/>
<circle cx="1147.8" cy="662.8" r="14.58"/>
<circle cx="1151.6" cy="670.2" r="14.58"/>
<circle cx="1153.3" cy="679.6" r="14.58"/>
<circle cx="1152.9" cy="690.0" r="14.58"/>
<circle cx="1163.3" cy="640.0" r="14.58"/>
<circle cx="1159.6" cy="648.5" r="14.58"/>
<circle cx="1160.1" cy="658.4" r="14.58"/>
<circle cx="1161.9" cy="668.6" r="14.58"/>
<circle cx="1160.8" cy="677.8" r="14.58"/>
<circle cx="1163.8" cy="690.0" r="14.58"/>
<circle cx="1172.0" cy="640.0" r="14.58"/>
<circle cx="1172.0" cy="649.1" r="14.58"/>
<circle cx="1172.0" cy="659.7" r="14.58"/>
<circle cx="1172.0" cy="670.5" r="14.58"/>
<circle cx="1172.0" cy="682.4" r="14.58"/>
<circle cx="1172.0" cy="690.0" r="14.58"/>
<circle cx="1100.0" cy="695.0" r="14.58"/>
<circle cx="1100.0" cy="708.0" r="14.58"/>
<circle cx="1110.1" cy="695.0" r="14.58"/>
<circle cx="1113.1" cy="708.0" r="14.58"/>
<circle cx="1121.1" cy="695.0" r="14.58"/>
<circle cx="1121.3" cy="708.0" r="14.58"/>
<circle cx="1131.8" cy="695.0" r="14.58"/>
<circle cx="1128.8" cy="708.0" r="14.58"/>
<circle cx="1141.9" cy="695.0" r="14.58"/>
<circle cx="1140.3" cy="708.0" r="14.58"/>
<circle cx="1149.8" cy="695.0" r="14.58"/>
<circle cx="1154.6" cy="708.0" r="14.58"/>
<circle cx="1161.4" cy="695.0" r="14.58"/>
<circle cx="1163.2" cy="708.0" r="14.58"/>
<circle cx="1175.2" cy="695.0" r="14.58"/>
<circle cx="1174.2" cy="708.0" r="14.58"/>
<circle cx="1183.4" cy="695.0" r="14.58"/>
<circle cx="1184.6" cy="708.0" r="14.58"/>
<circle cx="1195.0" cy="695.0" r="14.58"/>
<circle cx="1195.0" cy="708.0" r="14.58"/>
<circle cx="1045.0" cy="780.0" r="14.58"/>
<circle cx="1045.0" cy="791.2" r="14.58"/>
<circle cx="1045.0" cy="803.5" r="14.58"/>
<circle cx="1045.0" cy="810.4" r="14.58"/>
<circle cx="1045.0" cy="824.0" r="14.58"/>
<circle cx="1045.0" cy="833.0" r="14.58"/>
<circle cx="1045.0" cy="844.1" r="14.58"/>
<circle cx="1045.0" cy="858.0" r="14.58"/>
<circle cx="1045.0" cy="867.3" r="14.58"/>
<circle cx="1045.0" cy="878.6" r="14.58"/>
<circle cx="1045.0" cy="890.7" r="14.58"/>
<circle cx="1045.0" cy="900.0" r="14.58"/>
<circle cx="1058.7" cy="780.0" r="14.58"/>
<circle cx="1055.9" cy="791.6" r="14.58"/>
<circle cx="1056.3" cy="801.9" r="14.58"/>
<circle cx="1057.4" cy="812.4" r="14.58"/>
<circle cx="1056.4" cy="823.5" r="14.58"/>
<circle cx="1058.9" cy="835.7" r="14.58"/>
<circle cx="1058.5" cy="848.1" r="14.58"/>
<circle cx="1054.8" cy="856.7" r="14.58"/>
<circle cx="1058.9" cy="869.3" r="14.58"/>
<circle cx="1054.1" cy="875.9" r="14.58"/>
<circle cx="1055.9" cy="886.5" r="14.58"/>
<circle cx="1054.7" cy="900.0" r="14.58"/>
<circle cx="1064.9" cy="780.0" r="14.58"/>
<circle cx="1068.5" cy="792.6" r="14.58"/>
<circle cx="1069.9" cy="799.7" r="14.58"/>
<circle cx="1068.8" cy="813.7" r="14.58"/>
<circle cx="1065.4" cy="825.9" r="14.58"/>
<circle cx="1070.3" cy="832.9" r="14.58"/>
<circle cx="1070.2" cy="844.8" r="14.58"/>
<circle cx="1067.4" cy="859.3" r="14.58"/>
<circle cx="1069.5" cy="865.2" r="14.58"/>
<circle cx="1067.1" cy="878.3" r="14.58"/>
<circle cx="1066.5" cy="887.3" r="14.58"/>
<circle cx="1066.4" cy="900.0" r="14.58"/>
<circle cx="1080.1" cy="780.0" r="14.58"/>
<circle cx="1075.9" cy="791.2" r="14.58"/>
<circle cx="1078.4" cy="798.9" r="14.58"/>
<circle cx="1077.7" cy="813.5" r="14.58"/>
<circle cx="1078.8" cy="821.0" r="14.58"/>
<circle cx="1081.7" cy="836.3" r="14.58"/>
<circle cx="1081.6" cy="843.1" r="14.58"/>
<circle cx="1077.3" cy="853.6" r="14.58"/>
<circle cx="1080.4" cy="865.9" r="14.58"/>
<circle cx="1076.5" cy="877.7" r="14.58"/>
<circle cx="1081.2" cy="891.0" r="14.58"/>
<circle cx="1077.3" cy="900.0" r="14.58"/>
<circle cx="1090.0" cy="780.0" r="14.58"/>
<circle cx="1090.0" cy="788.8" r="14.58"/>
<circle cx="1090.0" cy="804.3" r="14.58"/>
<circle cx="1090.0" cy="813.2" r="14.58"/>
<circle cx="1090.0" cy="824.8" r="14.58"/>
<circle cx="1090.0" cy="832.1" r="14.58"/>
<circle cx="1090.0" cy="842.8" r="14.58"/>
<circle cx="1090.0" cy="857.5" r="14.58"/>
<circle cx="1090.0" cy="866.8" r="14.58"/>
<circle cx="1090.0" cy="875.6" r="14.58"/>
<circle cx="1090.0" cy="891.7" r="14.58"/>
<circle cx="1090.0" cy="900.0" r="14.58"/>
<circle cx="1150.0" cy="600.0" r="14.58"/>
<circle cx="1150.0" cy="613.5" r="14.58"/>
<circle cx="1150.0" cy="627.1" r="14.58"/>
<circle cx="1150.0" cy="638.0" r="14.58"/>
<circle cx="1158.3" cy="600.0" r="14.58"/>
<circle cx="1163.0" cy="610.1" r="14.58"/>
<circle cx="1163.0" cy="625.1" r="14.58"/>
<circle cx="1159.9" cy="638.0" r="14.58"/>
<circle cx="1172.0" cy="600.0" r="14.58"/>
<circle cx="1174.2" cy="611.3" r="14.58"/>
<circle cx="1169.4" cy="625.5" r="14.58"/>
<circle cx="1170.1" cy="638.0" r="14.58"/>
<circle cx="1180.2" cy="600.0" r="14.58"/>
<circle cx="1180.5" cy="610.0" r="14.58"/>
<circle cx="1180.7" cy="624.2" r="14.58"/>
<circle cx="1181.3" cy="638.0" r="14.58"/>
<circle cx="1194.9" cy="600.0" r="14.58"/>
<circle cx="1192.1" cy="612.7" r="14.58"/>
<circle cx="1191.4" cy="624.4" r="14.58"/>
<circle cx="1190.4" cy="638.0" r="14.58"/>
<circle cx="1202.7" cy="600.0" r="14.58"/>
<circle cx="1201.3" cy="614.1" r="14.58"/>
<circle cx="1204.5" cy="623.5" r="14.58"/>
<circle cx="1204.0" cy="638.0" r="14.58"/>
<circle cx="1215.0" cy="600.0" r="14.58"/>
<circle cx="1215.0" cy="615.3" r="14.58"/>
<circle cx="1215.0" cy="623.0" r="14.58"/>
<circle cx="1215.0" cy="638.0" r="14.58"/>
<circle cx="1110.0" cy="715.0" r="14.58"/>
<circle cx="1110.0" cy="729.4" r="14.58"/>
<circle cx="1110.0" cy="740.0" r="14.58"/>
<circle cx="1122.1" cy="715.0" r="14.58"/>
<circle cx="1122.5" cy="729.5" r="14.58"/>
<circle cx="1121.9" cy="740.0" r="14.58"/>
<circle cx="1135.0" cy="715.0" r="14.58"/>
<circle cx="1135.0" cy="727.5" r="14.58"/>
<circle cx="1135.0" cy="740.0" r="14.58"/>
<circle cx="1095.0" cy="740.0" r="14.58"/>
<circle cx="1095.0" cy="752.0" r="14.58"/>
<circle cx="1108.6" cy="740.0" r="14.58"/>
<circle cx="1110.4" cy="752.0" r="14.58"/>
<circle cx="1120.0" cy="740.0" r="14.58"/>
<circle cx="1120.0" cy="752.0" r="14.58"/>
</g>
<g stroke="#b0b0b0" stroke-width="3.333" fill="none">
<line x1="476.50" y1="112.00" x2="476.50" y2="1265.17"/>
<line x1="772.50" y1="112.00" x2="772.50" y2="1265.17"/>
<line x1="1067.50" y1="112.00" x2="1067.50" y2="1265.17"/>
<line x1="1363.50" y1="112.00" x2="1363.50" y2="1265.17"/>
<line x1="1659.50" y1="112.00" x2="1659.50" y2="1265.17"/>
<line x1="259.58" y1="1111.50" x2="1875.00" y2="1111.50"/>
<line x1="259.58" y1="900.50" x2="1875.00" y2="900.50"/>
<line x1="259.58" y1="689.50" x2="1875.00" y2="689.50"/>
<line x1="259.58" y1="478.50" x2="1875.00" y2="478.50"/>
<line x1="259.58" y1="266.50" x2="1875.00" y2="266.50"/>
</g>
<g stroke="#000" stroke-width="3.333" fill="none">
<line x1="476.50" y1="1265.17" x2="476.50" y2="1279.75"/>
<line x1="772.50" y1="1265.17" x2="772.50" y2="1279.75"/>
<line x1="1067.50" y1="1265.17" x2="1067.50" y2="1279.75"/>
<line x1="1363.50" y1="1265.17" x2="1363.50" y2="1279.75"/>
<line x1="1659.50" y1="1265.17" x2="1659.50" y2="1279.75"/>
<line x1="245.00" y1="1111.50" x2="259.58" y2="1111.50"/>
<line x1="245.00" y1="900.50" x2="259.58" y2="900.50"/>
<line x1="245.00" y1="689.50" x2="259.58" y2="689.50"/>
<line x1="245.00" y1="478.50" x2="259.58" y2="478.50"/>
<line x1="245.00" y1="266.50" x2="259.58" y2="266.50"/>
</g>
<line clip-path="url(#ax)" x1="259.58" y1="1191.40" x2="1875.00" y2="170.40" stroke="#ff0000" stroke-width="6.25" stroke-dasharray="23.125 10" fill="none"/>
<rect x="260.500" y="112.500" width="1615.000" height="1153.000" fill="none" stroke="#000" stroke-width="3.333" stroke-linejoin="miter"/>
<g font-size="41.667">
<text x="476.20" y="1326.2" text-anchor="middle">−0.04</text>
<text x="772.20" y="1326.2" text-anchor="middle">−0.02</text>
<text x="1067.20" y="1326.2" text-anchor="middle">0.00</text>
<text x="1363.20" y="1326.2" text-anchor="middle">0.02</text>
<text x="1659.20" y="1326.2" text-anchor="middle">0.04</text>
<text x="230.6" y="1127.20" text-anchor="end">−0.04</text>
<text x="230.6" y="916.20" text-anchor="end">−0.02</text>
<text x="230.6" y="705.20" text-anchor="end">0.00</text>
<text x="230.6" y="494.20" text-anchor="end">0.02</text>
<text x="230.6" y="282.20" text-anchor="end">0.04</text>
<text x="1067.29" y="1385.4" text-anchor="middle">Daily Log Return Market</text>
<text transform="translate(76.1 690.2) rotate(-90)" text-anchor="middle">Daily Log Return CTRA</text>
</g>
<text x="1067.29" y="87" font-size="50" text-anchor="middle">Market Return Against Return of CTRA</text>
<rect x="280.3" y="133.0" width="555.0" height="74.9" rx="8.33" ry="8.33" fill="#fff" fill-opacity="0.8" stroke="#cccccc" stroke-opacity="0.8" stroke-width="4.167"/>
<line x1="297.08" y1="167.8" x2="380.42" y2="167.8" stroke="#ff0000" stroke-width="6.25" stroke-dasharray="23.125 10"/>
<text x="413.75" y="181.8" font-size="41.667">y = 0.00 + x * 0.89</text>
</svg></body></html>
